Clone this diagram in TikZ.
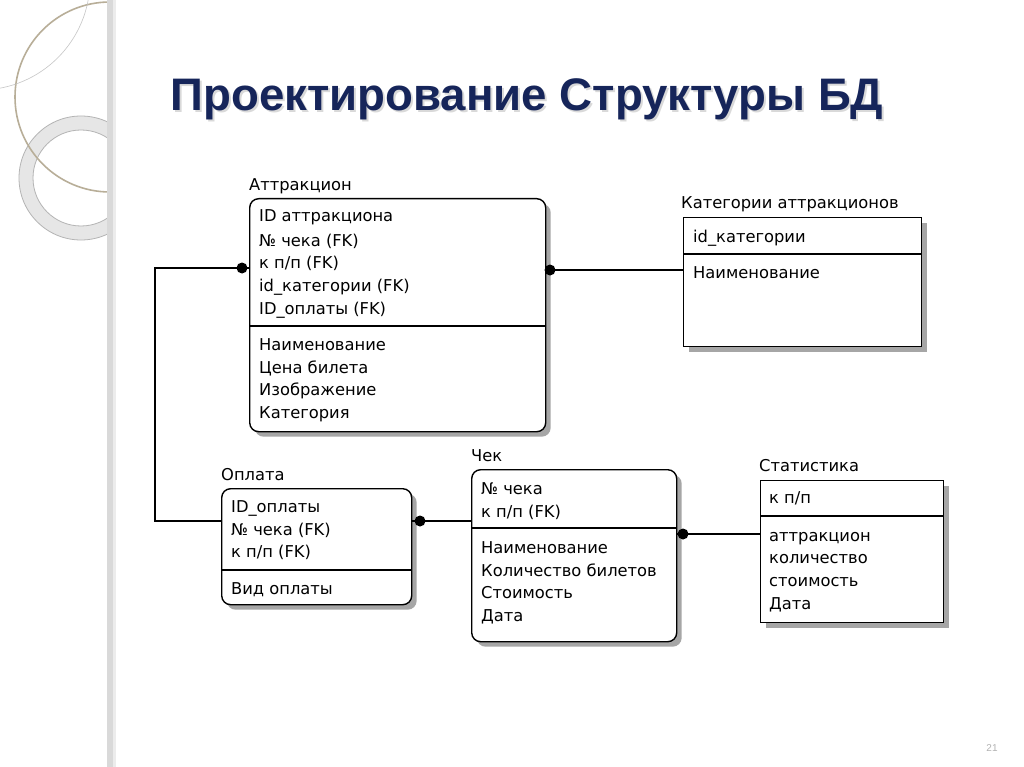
\documentclass[tikz,border=0pt]{standalone}
\usepackage{fontspec}
\setmainfont{Liberation Sans}
\newfontfamily\erfont{DejaVu Sans}
\usetikzlibrary{shadows}
\definecolor{titleblue}{HTML}{16255A}
\definecolor{ringfill}{HTML}{E6E6E6}
\definecolor{ringline}{HTML}{B4B4B4}
\definecolor{goldline}{HTML}{B8AE98}
\begin{document}
\begin{tikzpicture}[x=1pt,y=-1pt,
  tbl/.style={draw=black,line width=1.4pt,fill=white,anchor=north west,inner sep=0pt,
    drop shadow={shadow xshift=5pt,shadow yshift=-5pt,fill=gray!70,opacity=1}},
  rtbl/.style={tbl,rounded corners=9pt},
  fld/.style={anchor=base west,inner sep=0pt,font=\erfont\fontsize{16.3}{20}\selectfont},
  lbl/.style={fld},
  div/.style={line width=1.2pt},
  rel/.style={line width=1.5pt},
  dot/.style={fill=black}
]
\useasboundingbox (0,0) rectangle (1024,767);
\fill[white] (0,0) rectangle (1024,767);
% decoration
\begin{scope}
\clip (0,0) rectangle (110,767);
\draw[ringline,fill=ringfill,line width=0.8pt,even odd rule] (81,178) circle (62) (81,178) circle (48);
\draw[goldline,line width=1.6pt] (110,97) circle (95);
\draw[gray!45,line width=0.6pt] (-20,-20) circle (110);
\end{scope}
\fill[gray!30] (107,0) rectangle (113,767);
\fill[gray!15] (113,0) rectangle (116,767);
% title
\node[font=\bfseries\fontsize{45.6}{50}\selectfont,text=gray!30] at (529,101) {Проектирование Структуры БД};
\node[font=\bfseries\fontsize{45.6}{50}\selectfont,text=titleblue] (title) at (527,99) {Проектирование Структуры БД};
% tables
\node[rtbl,minimum width=296,minimum height=233] (attr) at (249,198) {};
\node[tbl,minimum width=238,minimum height=129] (kat) at (683,217) {};
\node[rtbl,minimum width=190,minimum height=116] (opl) at (221,488) {};
\node[rtbl,minimum width=205,minimum height=172] (chek) at (471,469) {};
\node[tbl,minimum width=183,minimum height=142] (stat) at (760,480) {};
% dividers
\draw[div] (attr.west |- 0,326) -- (attr.east |- 0,326);
\draw[div] (kat.west |- 0,254) -- (kat.east |- 0,254);
\draw[div] (opl.west |- 0,570) -- (opl.east |- 0,570);
\draw[div] (chek.west |- 0,528) -- (chek.east |- 0,528);
\draw[div] (stat.west |- 0,516) -- (stat.east |- 0,516);
% labels
\node[lbl] (lattr) at (249,191) {Аттракцион};
\node[lbl] (lkat) at (681,209) {Категории аттракционов};
\node[lbl] (lopl) at (221,480) {Оплата};
\node[lbl] (lchek) at (471,461) {Чек};
\node[lbl] (lstat) at (759,471) {Статистика};
% attr fields
\node[fld] (a1) at (259,222) {ID аттракциона};
\node[fld] (a2) at (259,246) {№ чека (FK)};
\node[fld] (a3) at (259,268) {к п/п (FK)};
\node[fld] (a4) at (259,291) {id\_категории (FK)};
\node[fld] (a5) at (259,314) {ID\_оплаты (FK)};
\node[fld] (a6) at (259,350) {Наименование};
\node[fld] (a7) at (259,373) {Цена билета};
\node[fld] (a8) at (259,395) {Изображение};
\node[fld] (a9) at (259,418) {Категория};
% kat fields
\node[fld] (k1) at (693,242) {id\_категории};
\node[fld] (k2) at (693,278) {Наименование};
% opl fields
\node[fld] (o1) at (231,512) {ID\_оплаты};
\node[fld] (o2) at (231,535) {№ чека (FK)};
\node[fld] (o3) at (231,557) {к п/п (FK)};
\node[fld] (o4) at (231,594) {Вид оплаты};
% chek fields
\node[fld] (c1) at (481,494) {№ чека};
\node[fld] (c2) at (481,517) {к п/п (FK)};
\node[fld] (c3) at (481,553) {Наименование};
\node[fld] (c4) at (481,576) {Количество билетов};
\node[fld] (c5) at (481,598) {Стоимость};
\node[fld] (c6) at (481,621) {Дата};
% stat fields
\node[fld] (s1) at (769,503) {к п/п};
\node[fld] (s2) at (769,541) {аттракцион};
\node[fld] (s3) at (769,563) {количество};
\node[fld] (s4) at (769,586) {стоимость};
\node[fld] (s5) at (769,609) {Дата};
% relationships
\coordinate (d1) at (242,268);
\coordinate (k1c) at (155,268);
\coordinate (e1) at (221,521);
\draw[rel] (attr.west |- d1) -- (k1c) |- (opl.west |- e1);
\fill[dot] (d1) circle (5.5);
\coordinate (d2) at (550,270);
\draw[rel] (attr.east |- d2) -- (kat.west |- d2);
\fill[dot] (d2) circle (5.5);
\coordinate (d3) at (420,521);
\draw[rel] (opl.east |- d3) -- (chek.west |- d3);
\fill[dot] (d3) circle (5.5);
\coordinate (d4) at (683,534);
\draw[rel] (chek.east |- d4) -- (stat.west |- d4);
\fill[dot] (d4) circle (5.5);
% page number
\node[font=\fontsize{10}{12}\selectfont,text=gray!60] (pg) at (992,748) {21};
\end{tikzpicture}
\end{document}
